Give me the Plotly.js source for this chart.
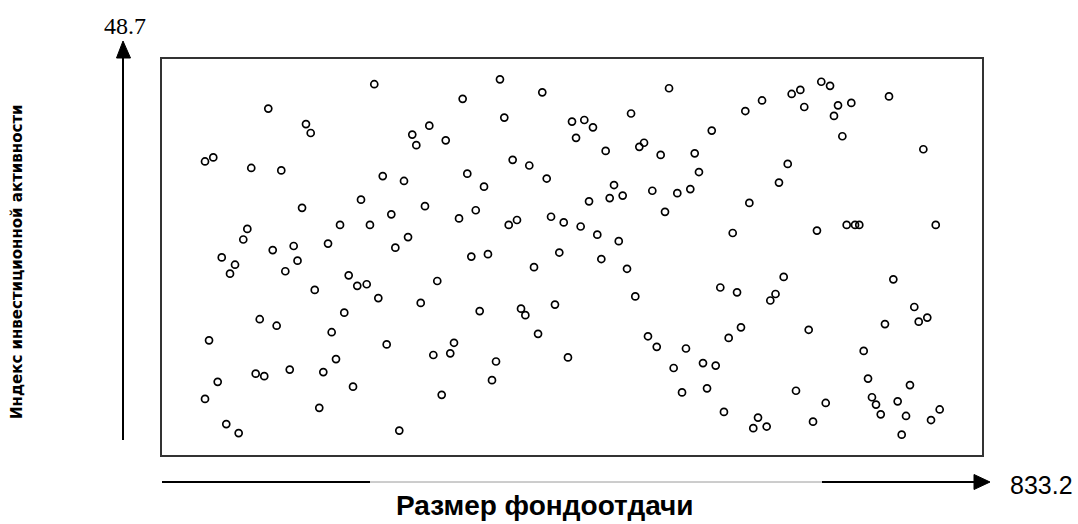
<!DOCTYPE html>
<html>
<head>
<meta charset="utf-8">
<script src="https://cdn.plot.ly/plotly-3.0.1.min.js"></script>
<style>html,body{margin:0;padding:0;background:#fff;}#chart{width:1078px;height:524px;}</style>
</head>
<body>
<div id="chart"></div>
<script>
// Размер фондоотдачи (x) and Индекс инвестиционной активности (y)
const xValues = [
  108.0,146.3,151.1,43.7,52.1,90.7,121.2,202.2,142.3,86.7,
  82.6,180.9,112.5,133.8,168.7,60.7,137.7,74.2,69.1,125.3,
  189.7,198.4,208.0,155.2,99.3,116.5,185.2,172.4,47.8,176.8,
  95.2,103.9,129.8,163.9,194.1,56.6,43.7,159.8,65.3,77.9,
  215.7,343.4,386.4,305.5,347.8,416.6,271.6,254.3,258.4,288.3,
  356.3,373.2,390.9,224.3,245.9,310.2,327.2,267.2,233.0,211.3,
  318.8,301.8,352.3,360.7,395.3,408.2,250.0,237.1,314.3,331.2,
  403.7,378.0,279.7,219.8,262.9,322.8,364.8,369.2,399.3,382.1,
  228.3,296.7,275.7,292.9,339.4,412.5,335.3,284.2,241.1,
  515.2,609.7,592.7,476.6,429.1,437.9,420.7,558.6,450.8,485.0,
  489.8,506.7,541.3,545.6,459.3,454.9,468.1,433.9,498.2,523.6,
  536.8,511.1,596.8,425.4,442.3,464.1,579.9,446.4,472.5,480.9,
  567.3,584.3,618.1,623.4,493.8,502.7,532.4,575.8,588.3,519.9,
  549.7,562.6,528.4,553.8,571.0,605.6,600.8,614.4,
  669.9,678.8,639.8,648.6,652.6,686.9,700.4,682.8,738.7,691.3,
  773.6,635.8,626.9,665.5,695.7,704.2,708.5,786.2,631.7,743.1,
  764.4,777.6,768.9,734.6,657.1,713.0,717.4,760.0,644.2,674.4,
  721.4,725.5,730.3,747.5,756.0,790.2,781.4,661.5,751.6
];
const yValues = [
  42.6,40.7,39.6,36.1,36.6,35.3,35.0,31.4,30.4,27.8,
  26.5,28.3,25.2,25.7,26.0,24.3,23.9,23.4,22.3,22.6,
  22.1,20.8,21.0,20.3,16.7,15.9,17.5,15.1,14.1,11.8,
  10.0,9.7,10.5,10.2,8.4,9.0,6.9,5.8,3.8,2.7,
  45.6,46.2,44.6,43.8,41.5,41.0,40.5,39.4,38.1,38.7,
  36.3,35.6,34.0,34.3,33.7,34.6,33.0,30.6,29.6,28.3,
  30.1,29.1,28.3,28.9,29.3,28.6,26.8,25.5,24.4,24.7,
  24.9,23.1,21.4,19.3,18.7,17.7,18.0,17.2,18.5,14.9,
  13.6,13.8,12.3,12.5,11.5,12.0,9.2,7.4,3.0,
  45.1,43.6,42.3,42.0,41.2,40.3,39.0,39.9,37.4,37.9,
  38.4,36.9,37.1,34.8,33.2,31.6,31.9,31.2,32.5,32.2,
  32.7,29.9,31.0,28.1,27.1,26.3,27.3,24.1,22.9,19.5,
  20.6,20.0,19.0,19.8,14.6,13.3,13.1,14.4,15.7,10.7,
  11.3,11.0,7.7,8.2,5.3,4.6,3.3,3.5,
  45.9,45.4,44.4,44.9,42.8,43.0,43.3,41.7,44.1,39.2,
  37.6,35.8,33.5,27.6,28.3,28.3,28.3,28.3,21.9,21.6,
  18.2,16.9,16.4,16.1,15.4,12.8,9.4,8.6,7.9,6.4,
  7.1,6.2,5.0,6.6,4.8,5.6,4.3,4.1,2.5
];
const xMax = 833.2;
const yMax = 48.7;
const xTitle = 'Размер фондоотдачи';
const yTitle = 'Индекс инвестиционной активности';

// plot box in pixels: left 162, right 982, top 59, bottom 455
const L = 162, R = 982, T = 59, B = 455;
const px = v => (v - L) / (R - L);
const py = v => (B - v) / (B - T);

const trace = {
  type: 'scatter', mode: 'markers', x: xValues, y: yValues,
  marker: {symbol: 'circle-open', size: 7, color: '#000', line: {width: 1.7, color: '#000'}},
  hoverinfo: 'x+y'
};

const shapes = [
  // vertical arrow
  {type: 'line', xref: 'paper', yref: 'paper', x0: px(123), x1: px(123), y0: py(440), y1: py(55), line: {color: '#000', width: 2}},
  {type: 'path', xref: 'paper', yref: 'paper',
   path: `M ${px(123)} ${py(41)} L ${px(116.5)} ${py(58)} L ${px(130.5)} ${py(58)} Z`,
   fillcolor: '#000', line: {color: '#000', width: 1}},
  // horizontal arrow
  {type: 'line', xref: 'paper', yref: 'paper', x0: px(162), x1: px(370), y0: py(482), y1: py(482), line: {color: '#000', width: 2}},
  {type: 'line', xref: 'paper', yref: 'paper', x0: px(370), x1: px(822), y0: py(482), y1: py(482), line: {color: '#9a9a9a', width: 1}},
  {type: 'line', xref: 'paper', yref: 'paper', x0: px(822), x1: px(976), y0: py(482), y1: py(482), line: {color: '#000', width: 2}},
  {type: 'path', xref: 'paper', yref: 'paper',
   path: `M ${px(990)} ${py(482)} L ${px(974)} ${py(474.5)} L ${px(974)} ${py(489.5)} Z`,
   fillcolor: '#000', line: {color: '#000', width: 1}}
];

const annotations = [
  {xref: 'paper', yref: 'paper', x: px(125), y: py(26), xanchor: 'center', yanchor: 'middle', showarrow: false,
   text: String(yMax), font: {family: 'Liberation Serif, Times New Roman, serif', size: 24, color: '#000'}},
  {xref: 'paper', yref: 'paper', x: px(1041), y: py(485), xanchor: 'center', yanchor: 'middle', showarrow: false,
   text: String(xMax), font: {family: 'Liberation Sans, Arial, sans-serif', size: 25, color: '#000'}},
  {xref: 'paper', yref: 'paper', x: px(545), y: py(505), xanchor: 'center', yanchor: 'middle', showarrow: false,
   text: '<b>' + xTitle + '</b>', font: {family: 'Liberation Sans, Arial, sans-serif', size: 28, color: '#000'}},
  {xref: 'paper', yref: 'paper', x: px(17), y: py(262), xanchor: 'center', yanchor: 'middle', showarrow: false, textangle: -90,
   text: '<b>' + yTitle + '</b>', font: {family: 'DejaVu Sans, sans-serif', size: 15, color: '#000'}}
];

const layout = {
  width: 1078, height: 524,
  margin: {l: L, r: 1078 - R, t: T, b: 524 - B, pad: 0},
  paper_bgcolor: '#fff', plot_bgcolor: '#fff',
  showlegend: false,
  xaxis: {range: [0, xMax], showgrid: false, zeroline: false, showticklabels: false, ticks: '',
          showline: true, mirror: true, linecolor: '#333', linewidth: 2, fixedrange: true},
  yaxis: {range: [0, yMax], showgrid: false, zeroline: false, showticklabels: false, ticks: '',
          showline: true, mirror: true, linecolor: '#333', linewidth: 2, fixedrange: true},
  shapes: shapes,
  annotations: annotations
};

Plotly.newPlot('chart', [trace], layout, {staticPlot: true, displayModeBar: false});
</script>
</body>
</html>
